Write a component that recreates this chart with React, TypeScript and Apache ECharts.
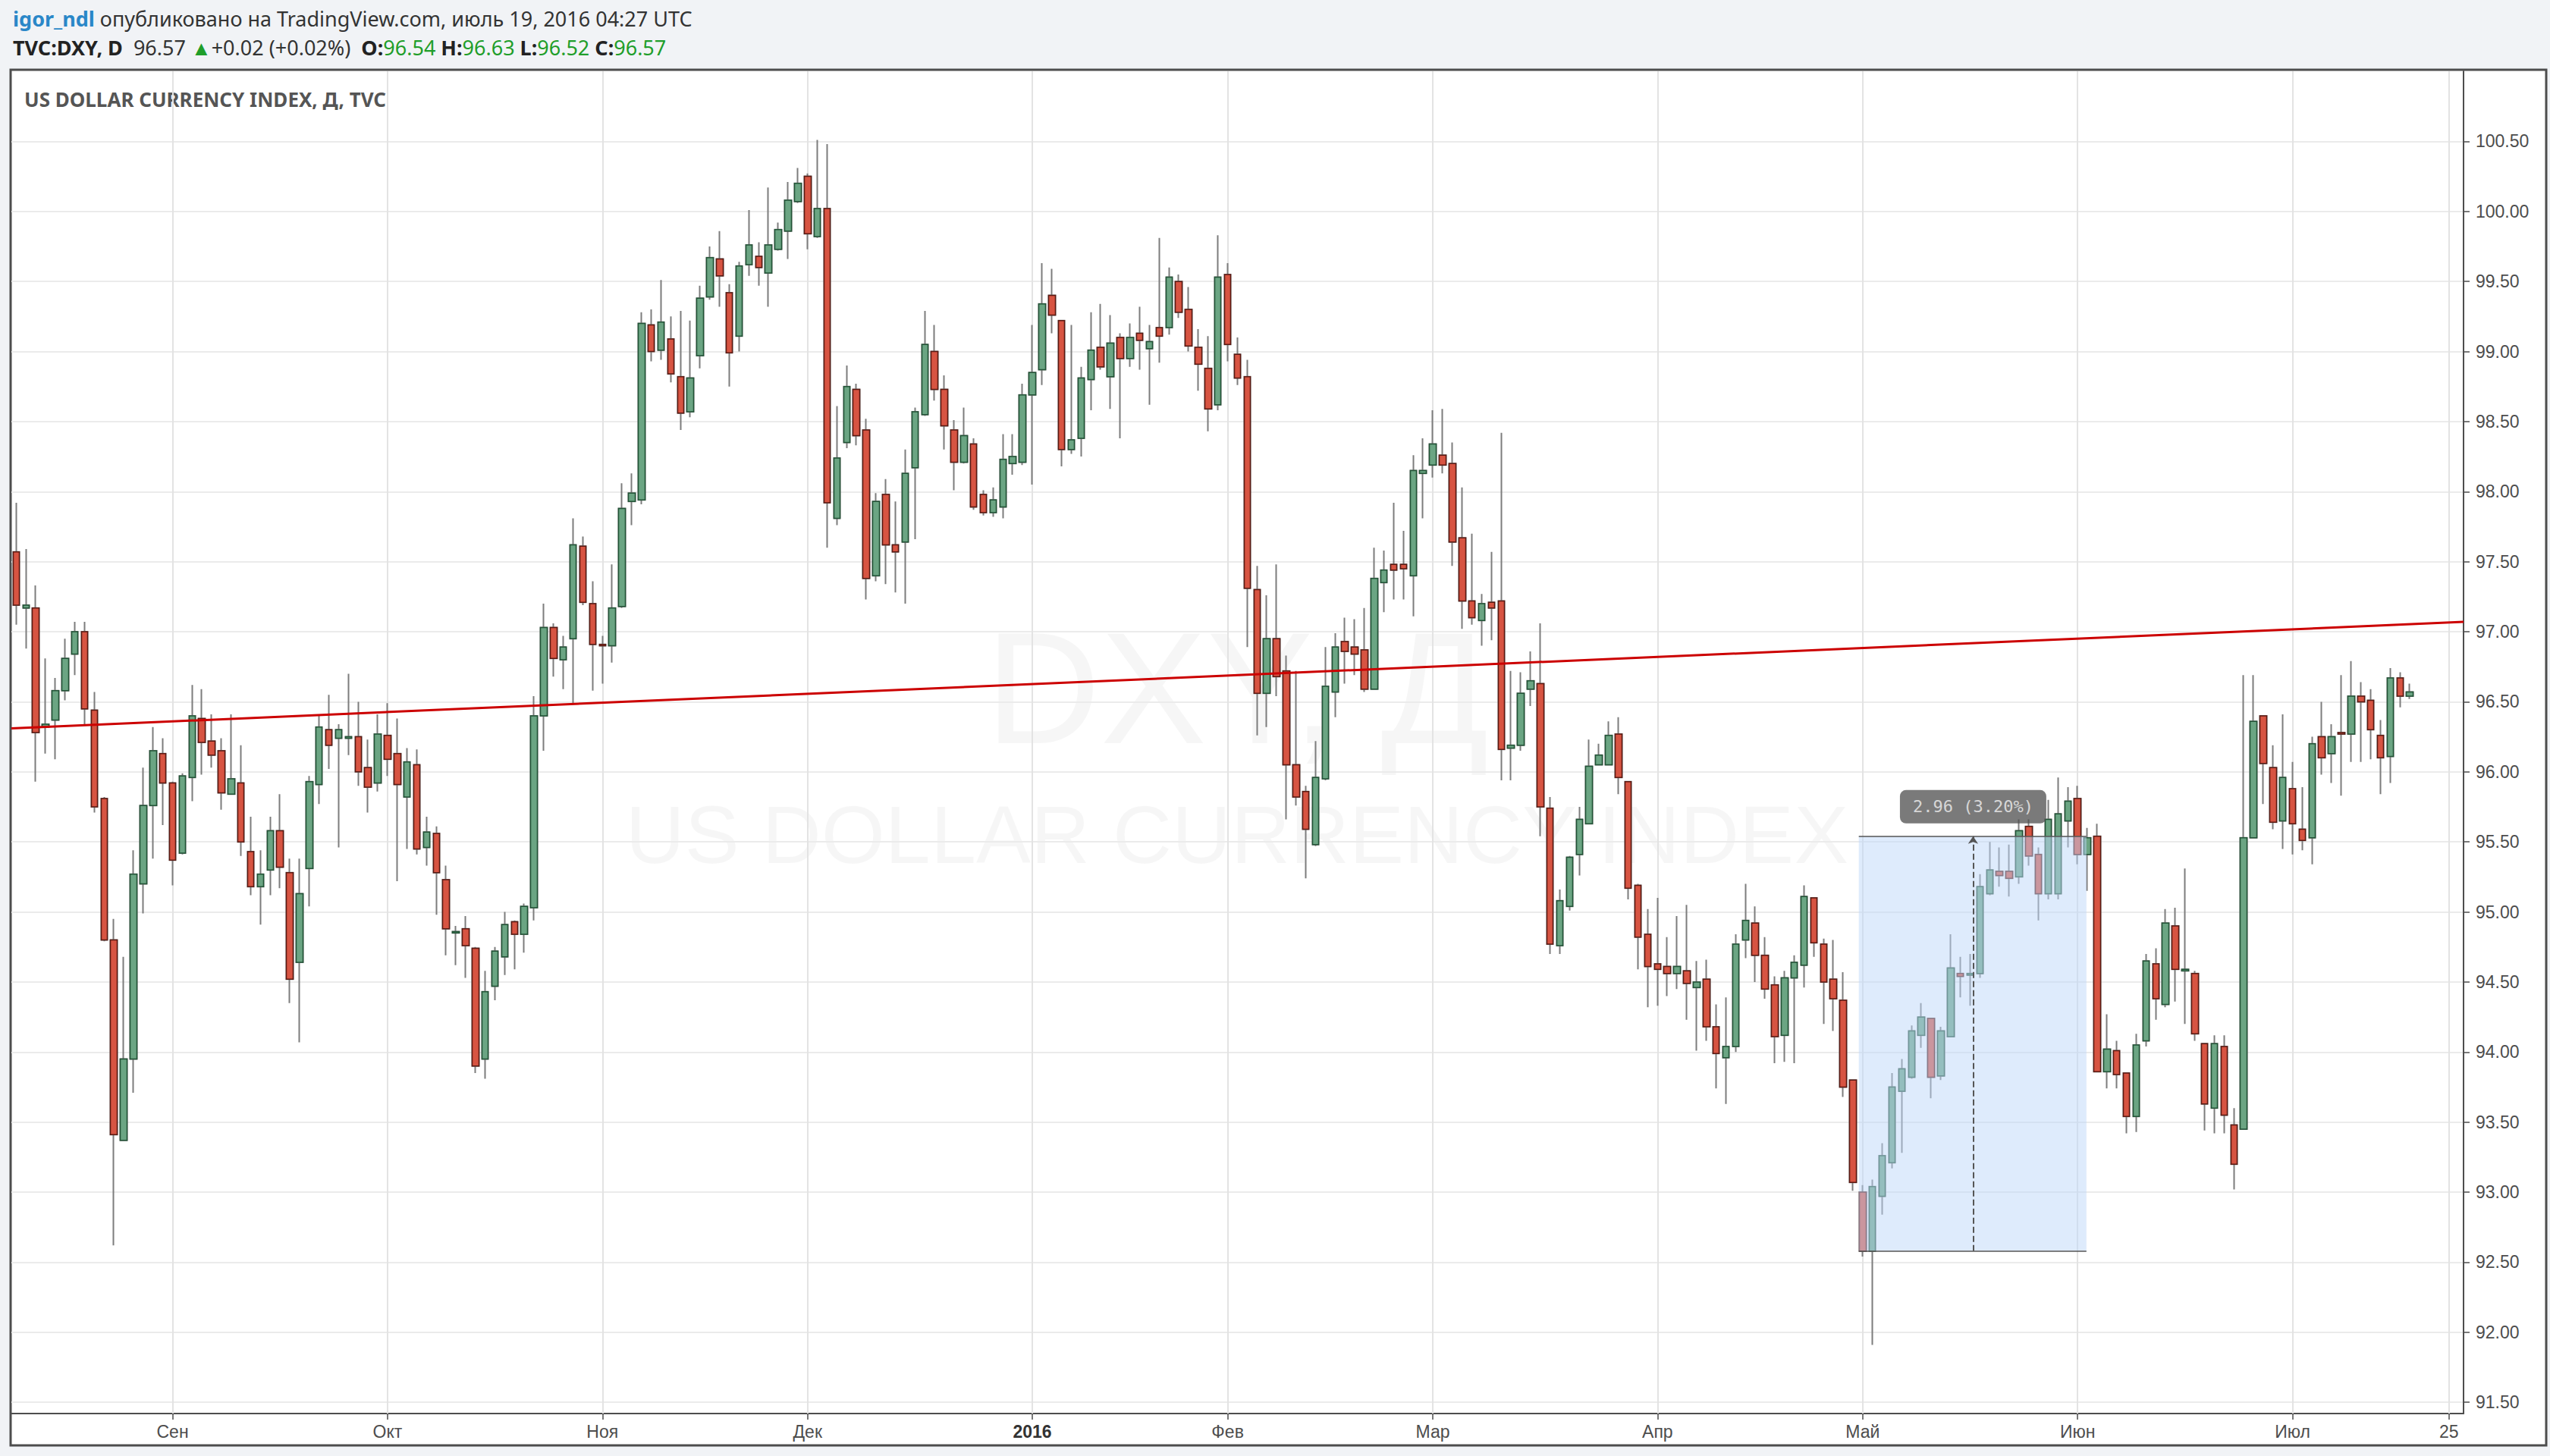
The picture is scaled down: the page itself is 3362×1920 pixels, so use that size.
import React, { useEffect, useRef } from "react";
import * as echarts from "echarts";

// ---- categories (trading days) ----
const startDate = "2015-08-10";
const endDate = "2016-07-26";
const skippedDates = ["2016-01-01"];

// ---- OHLC values ----
const opens = [
  97.57, 97.17, 97.17, 96.32, 96.37, 96.58, 96.84, 97.0, 96.44, 95.81,
  94.8, 93.37, 93.95, 95.2, 95.76, 96.13, 95.92, 95.42, 95.96, 96.38,
  96.22, 96.15, 95.84, 95.92, 95.43, 95.18, 95.3, 95.58, 95.28, 94.64,
  95.31, 95.91, 96.3, 96.24, 96.24, 96.25, 96.03, 95.92, 96.26, 96.13,
  95.82, 96.05, 95.46, 95.56, 95.23, 94.85, 94.88, 94.74, 93.95, 94.47,
  94.68, 94.93, 94.84, 95.03, 96.4, 97.03, 96.8, 96.95, 97.61, 97.2,
  96.91, 96.9, 97.18, 97.93, 97.94, 99.19, 99.01, 99.09, 98.82, 98.57,
  98.97, 99.39, 99.66, 99.42, 99.11, 99.62, 99.68, 99.56, 99.73, 99.86,
  100.07, 100.25, 99.82, 100.02, 97.81, 98.35, 98.73, 98.44, 97.4, 97.98,
  97.62, 97.64, 98.17, 98.55, 99.0, 98.73, 98.44, 98.21, 98.34, 97.98,
  97.85, 97.89, 98.2, 98.21, 98.69, 98.87, 99.4, 99.22, 98.3, 98.38,
  98.8, 99.03, 98.82, 99.1, 98.95, 99.13, 99.02, 99.17, 99.17, 99.5,
  99.3, 99.03, 98.88, 98.62, 99.55, 98.98, 98.82, 97.3, 96.56, 96.95,
  96.72, 96.05, 95.86, 95.48, 95.95, 96.57, 96.93, 96.89, 96.87, 96.59,
  97.35, 97.48, 97.48, 97.4, 98.13, 98.19, 98.26, 98.2, 97.67, 97.22,
  97.08, 97.21, 97.22, 96.17, 96.19, 96.59, 96.63, 95.74, 94.76, 95.04,
  95.41, 95.63, 96.05, 96.05, 96.27, 95.93, 95.19, 94.84, 94.63, 94.61,
  94.56, 94.58, 94.46, 94.52, 94.18, 93.96, 94.04, 94.8, 94.92, 94.69,
  94.48, 94.12, 94.53, 94.62, 95.1, 94.77, 94.52, 94.37, 93.8, 93.0,
  92.58, 92.97, 93.21, 93.72, 93.82, 94.12, 94.24, 93.83, 94.11, 94.56,
  94.55, 94.56, 95.13, 95.29, 95.29, 95.25, 95.61, 95.41, 95.13, 95.13,
  95.65, 95.81, 95.41, 95.54, 93.86, 94.01, 93.85, 93.54, 94.08, 94.63,
  94.34, 94.9, 94.58, 94.56, 94.06, 93.6, 94.04, 93.48, 93.45, 95.53,
  96.4, 96.03, 95.65, 95.88, 95.59, 95.53, 96.25, 96.13, 96.28, 96.27,
  96.54, 96.51, 96.26, 96.11, 96.67, 96.54,
];
const closes = [
  97.19, 97.19, 96.28, 96.34, 96.58, 96.81, 97.0, 96.45, 95.75, 94.8,
  93.41, 93.95, 95.27, 95.76, 96.15, 95.92, 95.37, 95.97, 96.4, 96.21,
  96.12, 95.85, 95.95, 95.5, 95.18, 95.27, 95.58, 95.32, 94.52, 95.13,
  95.93, 96.32, 96.19, 96.3, 96.25, 96.0, 95.89, 96.27, 96.09, 95.91,
  96.07, 95.45, 95.57, 95.28, 94.88, 94.86, 94.76, 93.9, 94.43, 94.72,
  94.91, 94.84, 95.04, 96.4, 97.03, 96.81, 96.89, 97.62, 97.21, 96.91,
  96.9, 97.17, 97.88, 97.99, 99.2, 99.0, 99.21, 98.84, 98.56, 98.81,
  99.38, 99.67, 99.54, 98.99, 99.61, 99.76, 99.6, 99.76, 99.87, 100.08,
  100.2, 99.84, 100.02, 97.92, 98.24, 98.75, 98.4, 97.38, 97.93, 97.62,
  97.57, 98.13, 98.57, 99.05, 98.73, 98.47, 98.21, 98.4, 97.89, 97.85,
  97.94, 98.23, 98.25, 98.69, 98.85, 99.34, 99.26, 98.3, 98.37, 98.81,
  99.01, 98.89, 99.06, 98.95, 99.1, 99.08, 99.07, 99.11, 99.53, 99.28,
  99.04, 98.91, 98.59, 99.53, 99.05, 98.81, 97.31, 96.56, 96.95, 96.68,
  96.05, 95.82, 95.59, 95.96, 96.61, 96.89, 96.86, 96.84, 96.59, 97.38,
  97.44, 97.44, 97.45, 98.15, 98.15, 98.34, 98.19, 97.64, 97.22, 97.1,
  97.2, 97.17, 96.16, 96.19, 96.56, 96.65, 95.75, 94.77, 95.08, 95.39,
  95.66, 96.04, 96.12, 96.26, 95.96, 95.17, 94.82, 94.61, 94.59, 94.56,
  94.61, 94.49, 94.5, 94.18, 93.99, 94.04, 94.77, 94.94, 94.69, 94.45,
  94.11, 94.53, 94.64, 95.11, 94.78, 94.5, 94.38, 93.75, 93.07, 92.58,
  93.04, 93.26, 93.75, 93.88, 94.15, 94.25, 93.82, 94.15, 94.6, 94.54,
  94.56, 95.18, 95.3, 95.26, 95.24, 95.58, 95.4, 95.13, 95.66, 95.7,
  95.79, 95.41, 95.53, 93.86, 94.02, 93.84, 93.54, 94.05, 94.65, 94.38,
  94.92, 94.59, 94.59, 94.13, 93.63, 94.06, 93.55, 93.2, 95.53, 96.36,
  96.06, 95.64, 95.96, 95.63, 95.51, 96.2, 96.1, 96.25, 96.27, 96.54,
  96.5, 96.3, 96.1, 96.67, 96.54, 96.57,
];
const lows = [
  97.05, 96.88, 95.93, 96.13, 96.09, 96.51, 96.69, 96.33, 95.71, 94.79,
  92.62, 93.37, 93.71, 94.99, 95.38, 95.62, 95.19, 95.41, 95.79, 95.98,
  96.03, 95.73, 95.84, 95.4, 95.12, 94.91, 95.12, 95.17, 94.35, 94.07,
  95.04, 95.77, 96.02, 95.46, 96.12, 95.9, 95.71, 95.86, 95.97, 95.22,
  95.45, 95.41, 95.33, 94.98, 94.69, 94.62, 94.53, 93.85, 93.81, 94.37,
  94.55, 94.59, 94.71, 94.94, 96.15, 96.68, 96.59, 96.48, 97.19, 96.58,
  96.63, 96.78, 97.17, 97.76, 97.91, 98.93, 98.94, 98.78, 98.44, 98.53,
  98.88, 99.37, 99.32, 98.75, 99.0, 99.54, 99.47, 99.32, 99.72, 99.66,
  100.06, 99.73, 99.81, 97.6, 97.76, 98.31, 98.33, 97.23, 97.36, 97.34,
  97.28, 97.2, 97.66, 98.54, 98.65, 98.3, 98.01, 98.2, 97.87, 97.83,
  97.82, 97.81, 98.12, 98.19, 98.05, 98.76, 99.13, 98.18, 98.27, 98.25,
  98.58, 98.87, 98.59, 98.38, 98.89, 98.87, 98.62, 98.92, 99.12, 99.24,
  99.0, 98.72, 98.43, 98.58, 98.93, 98.76, 96.89, 96.26, 96.32, 96.54,
  95.66, 95.76, 95.24, 95.47, 95.94, 96.39, 96.63, 96.69, 96.57, 96.59,
  97.14, 97.23, 97.23, 97.11, 97.81, 98.1, 98.13, 97.47, 97.02, 97.05,
  96.9, 96.94, 95.94, 95.94, 96.15, 96.47, 95.54, 94.7, 94.7, 95.01,
  95.26, 95.63, 96.05, 96.05, 95.84, 95.09, 94.59, 94.32, 94.33, 94.4,
  94.45, 94.23, 94.01, 94.08, 93.74, 93.63, 94.0, 94.67, 94.5, 94.38,
  93.92, 93.93, 93.92, 94.46, 94.68, 94.2, 94.15, 93.68, 93.01, 92.54,
  91.91, 92.84, 93.17, 93.28, 93.81, 94.03, 93.67, 93.8, 94.11, 94.39,
  94.33, 94.53, 95.12, 95.18, 95.11, 95.2, 95.33, 94.94, 95.09, 95.09,
  95.46, 95.34, 95.15, 93.86, 93.74, 93.74, 93.42, 93.43, 94.04, 94.23,
  94.32, 94.36, 94.2, 94.08, 93.44, 93.42, 93.42, 93.02, 93.45, 95.53,
  95.77, 95.59, 95.45, 95.41, 95.44, 95.34, 95.98, 95.92, 95.83, 96.07,
  96.07, 96.09, 95.84, 95.92, 96.46, 96.52,
];
const highs = [
  97.92, 97.59, 97.33, 96.81, 96.67, 96.95, 97.07, 97.07, 96.57, 95.82,
  94.95, 94.68, 95.44, 96.03, 96.32, 96.24, 95.93, 95.99, 96.62, 96.59,
  96.41, 96.24, 96.41, 96.19, 95.68, 95.44, 95.68, 95.84, 95.38, 95.38,
  95.97, 96.41, 96.55, 96.34, 96.7, 96.5, 96.23, 96.41, 96.49, 96.38,
  96.17, 96.16, 95.68, 95.61, 95.33, 94.9, 94.97, 94.75, 94.58, 94.75,
  95.0, 94.94, 95.06, 96.54, 97.2, 97.06, 96.97, 97.81, 97.68, 97.36,
  96.97, 97.48, 98.06, 98.13, 99.28, 99.3, 99.51, 99.25, 99.29, 99.22,
  99.47, 99.75, 99.86, 99.48, 99.64, 100.01, 99.78, 100.17, 99.92, 100.21,
  100.31, 100.27, 100.51, 100.48, 98.61, 98.9, 98.77, 98.52, 97.99, 98.09,
  97.93, 98.3, 98.6, 99.29, 99.19, 98.83, 98.51, 98.6, 98.38, 98.01,
  98.03, 98.41, 98.41, 98.77, 99.19, 99.63, 99.59, 99.22, 99.19, 98.89,
  99.28, 99.34, 99.26, 99.13, 99.2, 99.32, 99.19, 99.81, 99.6, 99.55,
  99.46, 99.16, 99.11, 99.83, 99.63, 99.1, 98.94, 97.47, 97.26, 97.48,
  96.83, 96.72, 95.9, 96.22, 96.89, 96.99, 97.1, 97.09, 97.17, 97.6,
  97.58, 97.92, 97.72, 98.26, 98.38, 98.58, 98.59, 98.35, 98.03, 97.7,
  97.27, 97.57, 98.42, 96.72, 96.71, 96.86, 97.06, 95.82, 95.16, 95.4,
  95.75, 96.23, 96.2, 96.36, 96.39, 95.93, 95.2, 95.02, 95.1, 94.82,
  94.97, 95.05, 94.65, 94.66, 94.34, 94.39, 94.84, 95.2, 95.04, 94.82,
  94.54, 94.58, 94.69, 95.19, 95.1, 94.81, 94.8, 94.57, 93.8, 93.05,
  93.09, 93.35, 93.85, 93.95, 94.19, 94.35, 94.24, 94.18, 94.84, 94.68,
  94.7, 95.27, 95.5, 95.46, 95.48, 95.66, 95.66, 95.46, 95.8, 95.96,
  95.89, 95.9, 95.6, 95.63, 94.27, 94.08, 93.85, 94.13, 94.7, 94.74,
  95.02, 95.03, 95.31, 94.58, 94.06, 94.12, 94.12, 93.6, 96.69, 96.69,
  96.4, 96.19, 96.41, 96.07, 95.89, 96.25, 96.5, 96.34, 96.69, 96.79,
  96.64, 96.59, 96.37, 96.74, 96.71, 96.63,
];

// ---- axis ticks ----
const yTicks = [91.5, 92, 92.5, 93, 93.5, 94, 94.5, 95, 95.5, 96, 96.5, 97, 97.5, 98, 98.5, 99, 99.5, 100, 100.5];
const xTickDates = ["2015-09-01", "2015-10-01", "2015-11-02", "2015-12-01", "2016-01-04", "2016-02-01", "2016-03-01", "2016-04-01", "2016-05-02", "2016-06-01", "2016-07-01", "2016-07-25"];
const xTickTexts = ["Сен", "Окт", "Ноя", "Дек", "2016", "Фев", "Мар", "Апр", "Май", "Июн", "Июл", "25"];

// ---- drawings ----
const trendPrices = [96.31, 97.07]; // at the left and right edges of the plot
const measureFromDate = "2016-05-02";
const measureToDate = "2016-06-01";
const measureMidDate = "2016-05-17";
const measureLow = 92.58;
const measureHigh = 95.54;

function buildDates(start: string, end: string, skip: string[]) {
  const out: string[] = [];
  let t = Date.parse(start + "T00:00:00Z");
  const e = Date.parse(end + "T00:00:00Z");
  while (t <= e) {
    const d = new Date(t);
    const wd = d.getUTCDay();
    const s = d.toISOString().slice(0, 10);
    if (wd !== 0 && wd !== 6 && skip.indexOf(s) < 0) out.push(s);
    t += 86400000;
  }
  return out;
}

export default function App() {
  const ref = useRef<HTMLDivElement>(null);
  useEffect(() => {
    document.body.style.margin = "0";
    const el = ref.current!;
    const chart = echarts.init(el, undefined, { renderer: "svg" });

    const dates = buildDates(startDate, endDate, skippedDates);
    const n = opens.length;
    const wickData = opens.map((o, i) => [o, closes[i], lows[i], highs[i]]);
    const bodyData = opens.map((o, i) => [o, closes[i], Math.min(o, closes[i]), Math.max(o, closes[i])]);
    const tickIdx = xTickDates.map((d) => dates.indexOf(d));
    const lastPrice = closes[n - 1];

    const fromIdx = dates.indexOf(measureFromDate) - 0.4;
    const toIdx = dates.indexOf(measureToDate) + 0.9;
    const midIdx = dates.indexOf(measureMidDate) + 0.3;
    const diff = measureHigh - measureLow;
    const measureText = diff.toFixed(2) + " (" + ((diff / measureLow) * 100).toFixed(2) + "%)";

    const axisColor = "#4d4d4d";
    const labelFont = "Liberation Sans";

    const option: any = {
      animation: false,
      backgroundColor: "#f1f3f6",
      grid: { left: 15, right: 114, top: 94, bottom: 56, containLabel: false },
      graphic: [
        {
          type: "rect",
          z: -10,
          silent: true,
          shape: { x: 14, y: 92, width: 3343, height: 1814 },
          style: { fill: "#ffffff", stroke: axisColor, lineWidth: 3 },
        },
        {
          type: "text",
          z: -5,
          silent: true,
          x: 1631,
          y: 907,
          style: { text: "DXY, Д", fill: "rgba(0,0,0,0.035)", fontSize: 210, fontFamily: labelFont, align: "center", verticalAlign: "middle" },
        },
        {
          type: "text",
          z: -5,
          silent: true,
          x: 1631,
          y: 1100,
          style: { text: "US DOLLAR CURRENCY INDEX", fill: "rgba(0,0,0,0.035)", fontSize: 108, fontFamily: labelFont, align: "center", verticalAlign: "middle" },
        },
        {
          type: "text",
          x: 17,
          y: 24,
          style: {
            text: "{u|igor_ndl}{t| опубликовано на TradingView.com, июль 19, 2016 04:27 UTC}",
            verticalAlign: "middle",
            rich: {
              u: { fill: "#2a87c8", fontWeight: "bold", fontSize: 27, fontFamily: "Noto Sans" },
              t: { fill: "#333333", fontSize: 27, fontFamily: "Noto Sans" },
            },
          },
        },
        {
          type: "text",
          x: 17,
          y: 62,
          style: {
            text: "{b|TVC:DXY, D}{t|  96.57 }{g|▲}{t|+0.02 (+0.02%) }{b| O:}{g|96.54}{b| H:}{g|96.63}{b| L:}{g|96.52}{b| C:}{g|96.57}",
            verticalAlign: "middle",
            rich: {
              b: { fill: "#222222", fontWeight: "bold", fontSize: 27, fontFamily: "Noto Sans" },
              t: { fill: "#333333", fontSize: 27, fontFamily: "Noto Sans" },
              g: { fill: "#1f9e2a", fontSize: 27, fontFamily: "Noto Sans" },
            },
          },
        },
        {
          type: "text",
          x: 32,
          y: 131,
          style: { text: "US DOLLAR CURRENCY INDEX, Д, TVC", fill: "#555555", fontSize: 26, fontWeight: "bold", fontFamily: "Noto Sans", verticalAlign: "middle" },
        },
      ],
      xAxis: [
        {
          type: "category",
          data: dates,
          boundaryGap: true,
          axisLine: { show: true, onZero: false, lineStyle: { color: axisColor, width: 2 } },
          axisTick: {
            show: true,
            alignWithLabel: true,
            length: 8,
            interval: (i: number, v: string) => xTickDates.indexOf(v) >= 0,
            lineStyle: { color: axisColor, width: 1.5 },
          },
          axisLabel: {
            interval: (i: number, v: string) => xTickDates.indexOf(v) >= 0,
            formatter: (v: string) => {
              const k = xTickDates.indexOf(v);
              if (k < 0) return "";
              const t = xTickTexts[k];
              return /^\d{4}$/.test(t) ? "{b|" + t + "}" : t;
            },
            color: axisColor,
            fontSize: 23,
            fontFamily: labelFont,
            margin: 12,
            rich: { b: { fontWeight: "bold", fontSize: 23, color: "#333", fontFamily: labelFont } },
          },
          splitLine: { show: false },
        },
        { type: "value", min: -0.5, max: dates.length - 0.5, show: false },
      ],
      yAxis: {
        type: "value",
        position: "right",
        min: 91.42,
        max: 101.0,
        axisLine: { show: true, onZero: false, lineStyle: { color: axisColor, width: 2 } },
        axisTick: { show: true, length: 8, customValues: yTicks, lineStyle: { color: axisColor, width: 1.5 } },
        axisLabel: {
          customValues: yTicks,
          formatter: (v: number) => v.toFixed(2),
          color: axisColor,
          fontSize: 23,
          fontFamily: labelFont,
          margin: 16,
        },
        splitLine: { show: true, lineStyle: { color: "#ebebeb", width: 2 } },
      },
      series: [
        {
          type: "line",
          xAxisIndex: 1,
          data: [[-0.5, 91.42]],
          symbol: "none",
          silent: true,
          z: 1,
          markLine: {
            silent: true,
            symbol: ["none", "none"],
            z: 1,
            label: { show: false },
            lineStyle: { color: "#e3e3e3", width: 2, type: "solid" },
            data: tickIdx.map((i) => ({ xAxis: i })),
          },
        },
        {
          type: "candlestick",
          xAxisIndex: 0,
          data: wickData,
          barWidth: 9,
          silent: true,
          z: 2,
          itemStyle: { color: "#6ba583", color0: "#d75442", borderColor: "#7d7d7d", borderColor0: "#7d7d7d", borderWidth: 2 },
        },
        {
          type: "candlestick",
          xAxisIndex: 0,
          data: bodyData,
          barWidth: 9,
          silent: true,
          z: 3,
          itemStyle: { color: "#6ba583", color0: "#d75442", borderColor: "#225437", borderColor0: "#5b1a13", borderWidth: 1.5 },
          markLine: {
            silent: true,
            symbol: ["none", "none"],
            lineStyle: { opacity: 0 },
            data: [{ yAxis: lastPrice }],
            label: {
              show: true,
              position: "end",
              distance: 5,
              formatter: lastPrice.toFixed(2),
              backgroundColor: "#6ba583",
              color: "#ffffff",
              fontSize: 23,
              fontFamily: labelFont,
              padding: [5, 9],
            },
          },
        },
        {
          type: "line",
          xAxisIndex: 1,
          data: [
            [-0.5, trendPrices[0]],
            [dates.length - 0.5, trendPrices[1]],
          ],
          symbol: "none",
          silent: true,
          z: 4,
          lineStyle: { color: "#cc0000", width: 3 },
        },
        {
          type: "scatter",
          xAxisIndex: 1,
          data: [[midIdx, measureHigh]],
          symbolSize: 0,
          silent: true,
          z: 6,
          label: {
            show: true,
            position: "top",
            distance: 17,
            formatter: measureText,
            color: "#f0f0f0",
            fontSize: 22,
            fontFamily: "DejaVu Sans Mono",
            backgroundColor: "rgba(80,80,80,0.95)",
            padding: [11, 17],
            borderRadius: 8,
          },
          markArea: {
            silent: true,
            z: 5,
            itemStyle: { color: "rgba(189,215,249,0.5)" },
            data: [[{ coord: [fromIdx, measureHigh] }, { coord: [toIdx, measureLow] }]],
          },
          markLine: {
            silent: true,
            z: 5,
            symbol: ["none", "none"],
            label: { show: false },
            lineStyle: { color: "#555555", width: 1.5, type: "solid" },
            data: [
              [{ coord: [fromIdx, measureHigh] }, { coord: [toIdx, measureHigh] }],
              [{ coord: [fromIdx, measureLow] }, { coord: [toIdx, measureLow] }],
              [
                { coord: [midIdx, measureLow], symbol: "none", lineStyle: { type: "dashed", width: 2, color: "#555555" } },
                { coord: [midIdx, measureHigh], symbol: "arrow", symbolSize: 10 },
              ],
            ],
          },
        },
      ],
    };

    chart.setOption(option);
    return () => chart.dispose();
  }, []);

  return <div ref={ref} style={{ position: "fixed", left: 0, top: 0, width: 3362, height: 1920 }} />;
}
